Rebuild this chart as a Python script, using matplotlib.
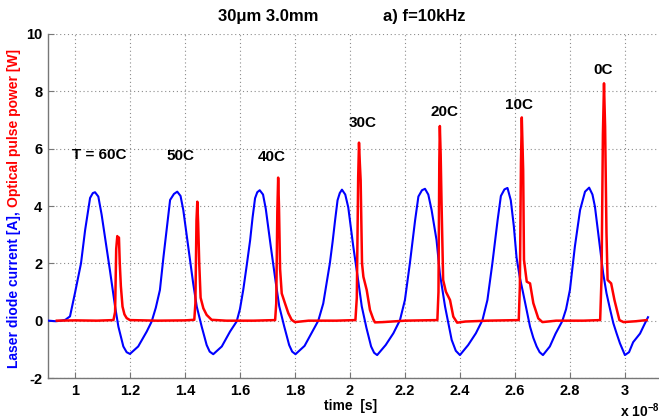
import matplotlib
matplotlib.use("Agg")
import matplotlib.pyplot as plt

# ---------------- data (time in units of 1e-8 s) ----------------
current_t = [
    0.905, 0.93, 0.95, 0.965, 0.982, 1.000, 1.022, 1.037, 1.055, 1.065, 1.073,
    1.085, 1.097, 1.109, 1.127, 1.146, 1.158, 1.176, 1.188, 1.200,
    1.23, 1.261, 1.279, 1.294, 1.309, 1.322, 1.336, 1.346, 1.36, 1.372,
    1.384, 1.394, 1.412, 1.43, 1.443, 1.461, 1.479, 1.49, 1.503,
    1.534, 1.564, 1.588, 1.600, 1.612, 1.625, 1.637, 1.646, 1.655, 1.663, 1.672,
    1.684, 1.694, 1.712, 1.73, 1.743, 1.761, 1.779, 1.79, 1.802,
    1.835, 1.867, 1.885, 1.903, 1.915, 1.927, 1.937, 1.946, 1.955, 1.963, 1.971,
    1.983, 1.994, 2.012, 2.03, 2.043, 2.06, 2.077, 2.088, 2.099,
    2.13, 2.158, 2.182, 2.2, 2.218, 2.237, 2.249, 2.262, 2.273,
    2.285, 2.297, 2.315, 2.327, 2.346, 2.358, 2.37, 2.385, 2.400,
    2.43, 2.458, 2.482, 2.5, 2.518, 2.537, 2.549, 2.562, 2.573,
    2.585, 2.596, 2.606, 2.618, 2.63, 2.643, 2.655, 2.667, 2.679, 2.69, 2.702,
    2.727, 2.748, 2.772, 2.786, 2.8, 2.818, 2.837, 2.855, 2.870,
    2.882, 2.891, 2.909, 2.921, 2.933, 2.946, 2.958, 2.97, 2.982, 3.0,
    3.015, 3.03, 3.055, 3.07, 3.084,
]
current_a = [
    0.0, -0.02, 0.0, 0.03, 0.15, 0.96, 2.0, 3.16, 4.28, 4.45, 4.48,
    4.33, 3.7, 2.93, 1.77, 0.49, -0.21, -0.9, -1.1, -1.16,
    -0.9, -0.38, -0.03, 0.45, 1.07, 2.23, 3.4, 4.21, 4.42, 4.5,
    4.35, 3.86, 2.58, 1.3, 0.49, -0.21, -0.85, -1.08, -1.17,
    -0.9, -0.38, -0.03, 0.4, 1.07, 1.95, 2.8, 3.6, 4.27, 4.48, 4.55,
    4.4, 3.9, 2.6, 1.35, 0.5, -0.2, -0.85, -1.08, -1.17,
    -0.88, -0.32, 0.0, 0.6, 1.3, 2.0, 2.75, 3.5, 4.2, 4.45, 4.57,
    4.4, 3.95, 2.6, 1.4, 0.5, -0.25, -0.9, -1.12, -1.2,
    -0.85, -0.44, 0.02, 0.72, 2.0, 3.5, 4.33, 4.55, 4.6,
    4.4, 3.86, 2.81, 1.65, 0.49, -0.1, -0.67, -1.05, -1.2,
    -0.85, -0.44, 0.02, 0.72, 2.0, 3.5, 4.35, 4.58, 4.63,
    4.2, 3.3, 2.2, 1.5, 0.96, 0.35, -0.21, -0.6, -0.9, -1.1, -1.2,
    -0.9, -0.45, -0.02, 0.4, 1.07, 2.58, 3.86, 4.5, 4.64,
    4.4, 3.98, 2.58, 1.65, 0.96, 0.4, -0.09, -0.45, -0.79, -1.2,
    -1.1, -0.75, -0.45, -0.15, 0.12,
]

power_t = [
    0.934, 1.0, 1.08, 1.14, 1.146, 1.150, 1.154, 1.157, 1.160, 1.163, 1.167,
    1.173, 1.180, 1.188, 1.20, 1.30, 1.40,
    1.434, 1.438, 1.442, 1.445, 1.448, 1.452, 1.457, 1.467, 1.479, 1.497,
    1.55, 1.65,
    1.728, 1.732, 1.736, 1.739, 1.742, 1.746, 1.752, 1.764, 1.776, 1.788,
    1.80, 1.85, 1.95,
    2.02, 2.025, 2.03, 2.033, 2.036, 2.039, 2.044, 2.049, 2.061, 2.073, 2.085,
    2.091, 2.12, 2.2,
    2.318, 2.322, 2.325, 2.327, 2.330, 2.333, 2.339, 2.349, 2.364, 2.376,
    2.39, 2.42, 2.5,
    2.614, 2.618, 2.622, 2.625, 2.628, 2.630, 2.633, 2.643, 2.655, 2.667,
    2.685, 2.70, 2.75, 2.85,
    2.910, 2.915, 2.920, 2.924, 2.926, 2.928, 2.933, 2.937, 2.95, 2.962,
    2.98, 2.995, 3.04, 3.079,
]
power_w = [
    0.0, 0.01, 0.0, 0.02, 0.3, 2.5, 2.95, 2.85, 2.9, 2.0, 1.2,
    0.49, 0.22, 0.09, 0.02, 0.0, 0.01,
    0.03, 0.6, 3.5, 4.15, 3.4, 2.0, 0.8, 0.43, 0.2, 0.03,
    0.0, 0.0,
    0.02, 0.6, 3.8, 4.99, 4.0, 1.8, 0.95, 0.6, 0.26, 0.03,
    -0.05, 0.0, 0.0,
    0.02, 0.8, 5.0, 6.21, 5.5, 4.9, 2.0, 1.53, 1.07, 0.37, 0.05,
    -0.06, -0.05, 0.0,
    0.02, 1.0, 5.5, 6.79, 5.8, 4.2, 1.42, 1.01, 0.72, 0.14,
    -0.07, -0.03, 0.0,
    0.02, 1.2, 5.5, 7.09, 6.0, 5.26, 2.12, 1.36, 1.3, 0.61,
    0.08, -0.05, 0.0, 0.0,
    0.02, 1.5, 6.5, 8.28, 7.5, 6.77, 3.06, 1.42, 1.3, 0.72,
    0.02, -0.05, -0.02, 0.02,
]

temp_labels = ["T = 60C", "50C", "40C", "30C", "20C", "10C", "0C"]
temp_label_x = [1.09, 1.382, 1.716, 2.048, 2.345, 2.615, 2.92]
temp_label_y = [5.78, 5.75, 5.7, 6.9, 7.28, 7.52, 8.74]

x_ticks = [1.0, 1.2, 1.4, 1.6, 1.8, 2.0, 2.2, 2.4, 2.6, 2.8, 3.0]
y_ticks = [-2, 0, 2, 4, 6, 8, 10]

# ---------------- figure ----------------
FONT = "Liberation Sans"
plt.rcParams["font.family"] = [FONT, "DejaVu Sans"]
plt.rcParams["font.weight"] = "bold"
plt.rcParams["mathtext.fontset"] = "custom"
plt.rcParams["mathtext.bf"] = FONT + ":bold"
plt.rcParams["mathtext.rm"] = FONT + ":bold"
plt.rcParams["mathtext.default"] = "bf"

W, H = 659, 419
fig = plt.figure(figsize=(W / 100, H / 100), dpi=100)
ax = fig.add_axes([48 / W, 1 - 378 / H, (W - 48) / W, (378 - 34) / H])

ax.plot(current_t, current_a, color=(0, 0, 1), lw=1.5, zorder=3)
ax.plot(power_t, power_w, color=(1, 0, 0), lw=1.8, zorder=4)

ax.set_xlim(0.902, 3.124)
ax.set_ylim(-2, 10)
ax.set_xticks(x_ticks)
ax.set_yticks(y_ticks)
ax.set_xticklabels(["%g" % v for v in x_ticks], fontsize=10.5, fontweight="bold")
ax.set_yticklabels(["%g" % v for v in y_ticks], fontsize=10.5, fontweight="bold")
ax.tick_params(direction="in", length=4, width=0.8, color="#777777")
ax.tick_params(axis="x", pad=4)
ax.tick_params(axis="y", pad=4)
ax.grid(True, linestyle=(0, (1, 2.5)), color="#8c8c8c", lw=0.8)
for s in ("top", "right"):
    ax.spines[s].set_visible(False)
for s in ("left", "bottom"):
    ax.spines[s].set_color("#777777")
    ax.spines[s].set_linewidth(1.0)

for lab, x, y in zip(temp_labels, temp_label_x, temp_label_y):
    ax.text(x, y, lab, ha="center", va="center", fontsize=11, fontweight="bold")

# title pieces
fig.text(268 / W, 1 - 17 / H, "30μm 3.0mm", ha="center", va="center",
         fontsize=12, fontweight="bold")
fig.text(424 / W, 1 - 17 / H, "a) f=10kHz", ha="center", va="center",
         fontsize=12, fontweight="bold")

# x label and multiplier
fig.text(351 / W, 1 - 406 / H, "time  [s]", ha="center", va="center",
         fontsize=10, fontweight="bold")
fig.text(620 / W, 1 - 411 / H, "x 10$^{-8}$", ha="left", va="center",
         fontsize=10, fontweight="bold")

# two-colour y label
t1 = fig.text(14 / W, 1 - 368 / H, "Laser diode current [A],", rotation=90,
              ha="center", va="bottom", color=(0, 0, 1), fontsize=10,
              fontweight="bold")
fig.canvas.draw()
bb = t1.get_window_extent(fig.canvas.get_renderer())
fig.text(14 / W, (bb.y1 + 4) / H, "Optical pulse power [W]", rotation=90,
         ha="center", va="bottom", color=(1, 0, 0), fontsize=10,
         fontweight="bold")

fig.savefig("out.png", dpi=100)
